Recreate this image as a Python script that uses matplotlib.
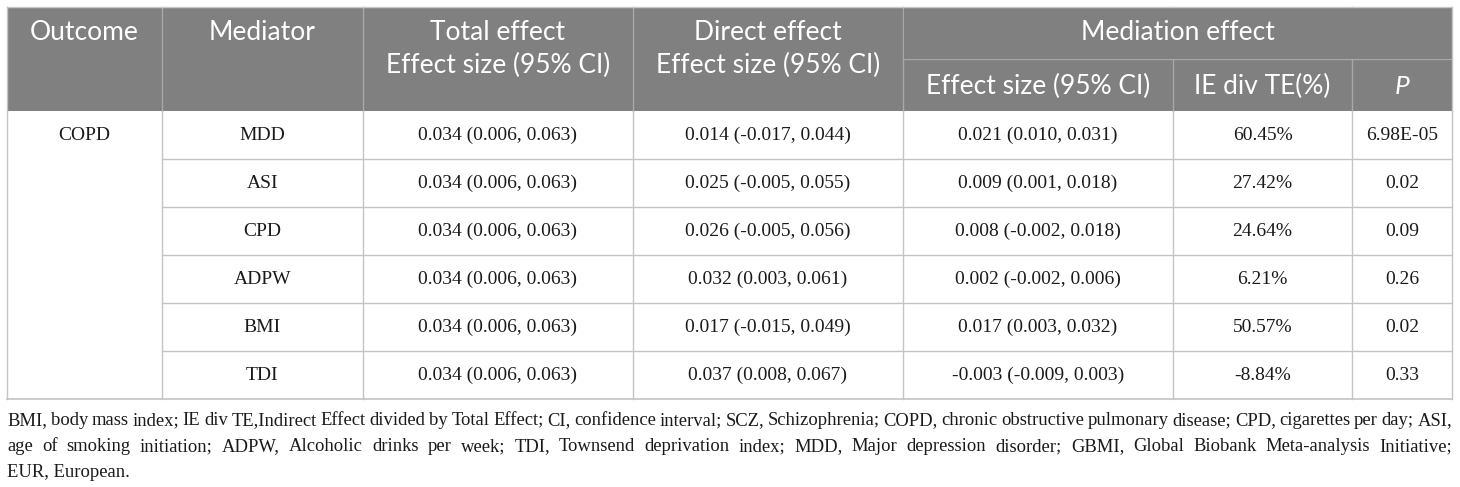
import matplotlib
matplotlib.use("Agg")
import matplotlib.pyplot as plt

# ---------------- data ----------------
outcome = "COPD"
mediators = ["MDD", "ASI", "CPD", "ADPW", "BMI", "TDI"]
total_effect = ["0.034 (0.006, 0.063)"] * 6
direct_effect = ["0.014 (-0.017, 0.044)", "0.025 (-0.005, 0.055)", "0.026 (-0.005, 0.056)",
                 "0.032 (0.003, 0.061)", "0.017 (-0.015, 0.049)", "0.037 (0.008, 0.067)"]
mediation_effect = ["0.021 (0.010, 0.031)", "0.009 (0.001, 0.018)", "0.008 (-0.002, 0.018)",
                    "0.002 (-0.002, 0.006)", "0.017 (0.003, 0.032)", "-0.003 (-0.009, 0.003)"]
ie_div_te = ["60.45%", "27.42%", "24.64%", "6.21%", "50.57%", "-8.84%"]
p_values = ["6.98E-05", "0.02", "0.09", "0.26", "0.02", "0.33"]

footnote_lines = [
    "BMI, body mass index; IE div TE,Indirect Effect divided by Total Effect; CI, confidence interval; "
    "SCZ, Schizophrenia; COPD, chronic obstructive pulmonary disease; CPD, cigarettes per day; ASI,",
    "age of smoking initiation; ADPW, Alcoholic drinks per week; TDI, Townsend deprivation index; "
    "MDD, Major depression disorder; GBMI, Global Biobank Meta-analysis Initiative;",
    "EUR, European.",
]

# ---------------- layout ----------------
W, H = 1460, 487
fig = plt.figure(figsize=(W / 100, H / 100), dpi=100)
ax = fig.add_axes([0, 0, 1, 1])
ax.set_xlim(0, W)
ax.set_ylim(H, 0)
ax.axis("off")

xb = [7, 162, 363, 633, 903, 1173, 1352, 1452]   # column borders
top, sub, hbot = 7, 59, 111
row_h = 48
nrows = len(mediators)
bottom = hbot + row_h * nrows

hdr_col = "#808080"
hdr_line = "#a8a8a8"
grid_col = "#c4c4c4"
txt_col = "#1a1a1a"

sans = "Lato"
serif = "Liberation Serif"
hfs = 19
dfs = 14

# header background
ax.add_patch(plt.Rectangle((xb[0], top), xb[-1] - xb[0], hbot - top, facecolor=hdr_col,
                           edgecolor="none", zorder=1))
for x in xb[1:-1]:
    ax.plot([x, x], [top, hbot], color=hdr_line, lw=1, zorder=2)
ax.plot([xb[4], xb[7]], [sub, sub], color=hdr_line, lw=1, zorder=2)
ax.add_patch(plt.Rectangle((xb[4] + 1, top), xb[7] - xb[4] - 2, sub - top - 0.5, facecolor=hdr_col,
                           edgecolor="none", zorder=2.5))
ax.plot([xb[0], xb[-1]], [top, top], color="#c8c8c8", lw=1, zorder=3)

# body grid
for x in xb:
    ax.plot([x, x], [hbot, bottom], color=grid_col, lw=1, zorder=2)
for i in range(1, nrows):
    y = hbot + i * row_h
    ax.plot([xb[1], xb[-1]], [y, y], color=grid_col, lw=1, zorder=2)
ax.plot([xb[0], xb[-1]], [bottom, bottom], color=grid_col, lw=1.2, zorder=2)
ax.plot([xb[0], xb[0]], [top, hbot], color=grid_col, lw=1, zorder=3)
ax.plot([xb[-1], xb[-1]], [top, hbot], color=grid_col, lw=1, zorder=3)

def cx(i):
    return (xb[i] + xb[i + 1]) / 2

# header text
l1, l2, l3 = 33, 65, 86
hk = dict(color="white", fontsize=hfs, family=sans, ha="center", va="center", zorder=4)
ax.text(cx(0), l1, "Outcome", **hk)
ax.text(cx(1), l1, "Mediator", **hk)
ax.text(cx(2), l1, "Total effect", **hk)
ax.text(cx(2), l2, "Effect size (95% CI)", **hk)
ax.text(cx(3), l1, "Direct effect", **hk)
ax.text(cx(3), l2, "Effect size (95% CI)", **hk)
ax.text((xb[4] + xb[7]) / 2, l1, "Mediation effect", **hk)
ax.text(cx(4), l3, "Effect size (95% CI)", **hk)
ax.text(cx(5), l3, "IE div TE(%)", **hk)
ax.text(cx(6), l3, "P", style="italic", **hk)

# body text
dk = dict(color=txt_col, fontsize=dfs, family=serif, ha="center", va="center", zorder=4)
ax.text(cx(0), hbot + row_h / 2, outcome, **dk)
cols = [mediators, total_effect, direct_effect, mediation_effect, ie_div_te, p_values]
for r in range(nrows):
    yc = hbot + row_h * r + row_h / 2
    for c, col in enumerate(cols):
        ax.text(cx(c + 1), yc, col[r], **dk)

# footnote, justified
fig.canvas.draw()
renderer = fig.canvas.get_renderer()
fk = dict(color=txt_col, fontsize=13.4, family=serif, ha="left", va="baseline", zorder=4)
baselines = [425, 451, 477]
left, right = 7, 1452
for li, line in enumerate(footnote_lines):
    words = line.split(" ")
    justify = li < len(footnote_lines) - 1
    if not justify:
        ax.text(left, baselines[li], line, **fk)
        continue
    texts = [ax.text(0, baselines[li], w, **fk) for w in words]
    widths = [t.get_window_extent(renderer).width for t in texts]
    gap = max((right - left - sum(widths)) / (len(words) - 1), 2.0)
    x = left
    for t, w in zip(texts, widths):
        t.set_x(x)
        x += w + gap

fig.savefig("out.png", dpi=100, facecolor="white")
